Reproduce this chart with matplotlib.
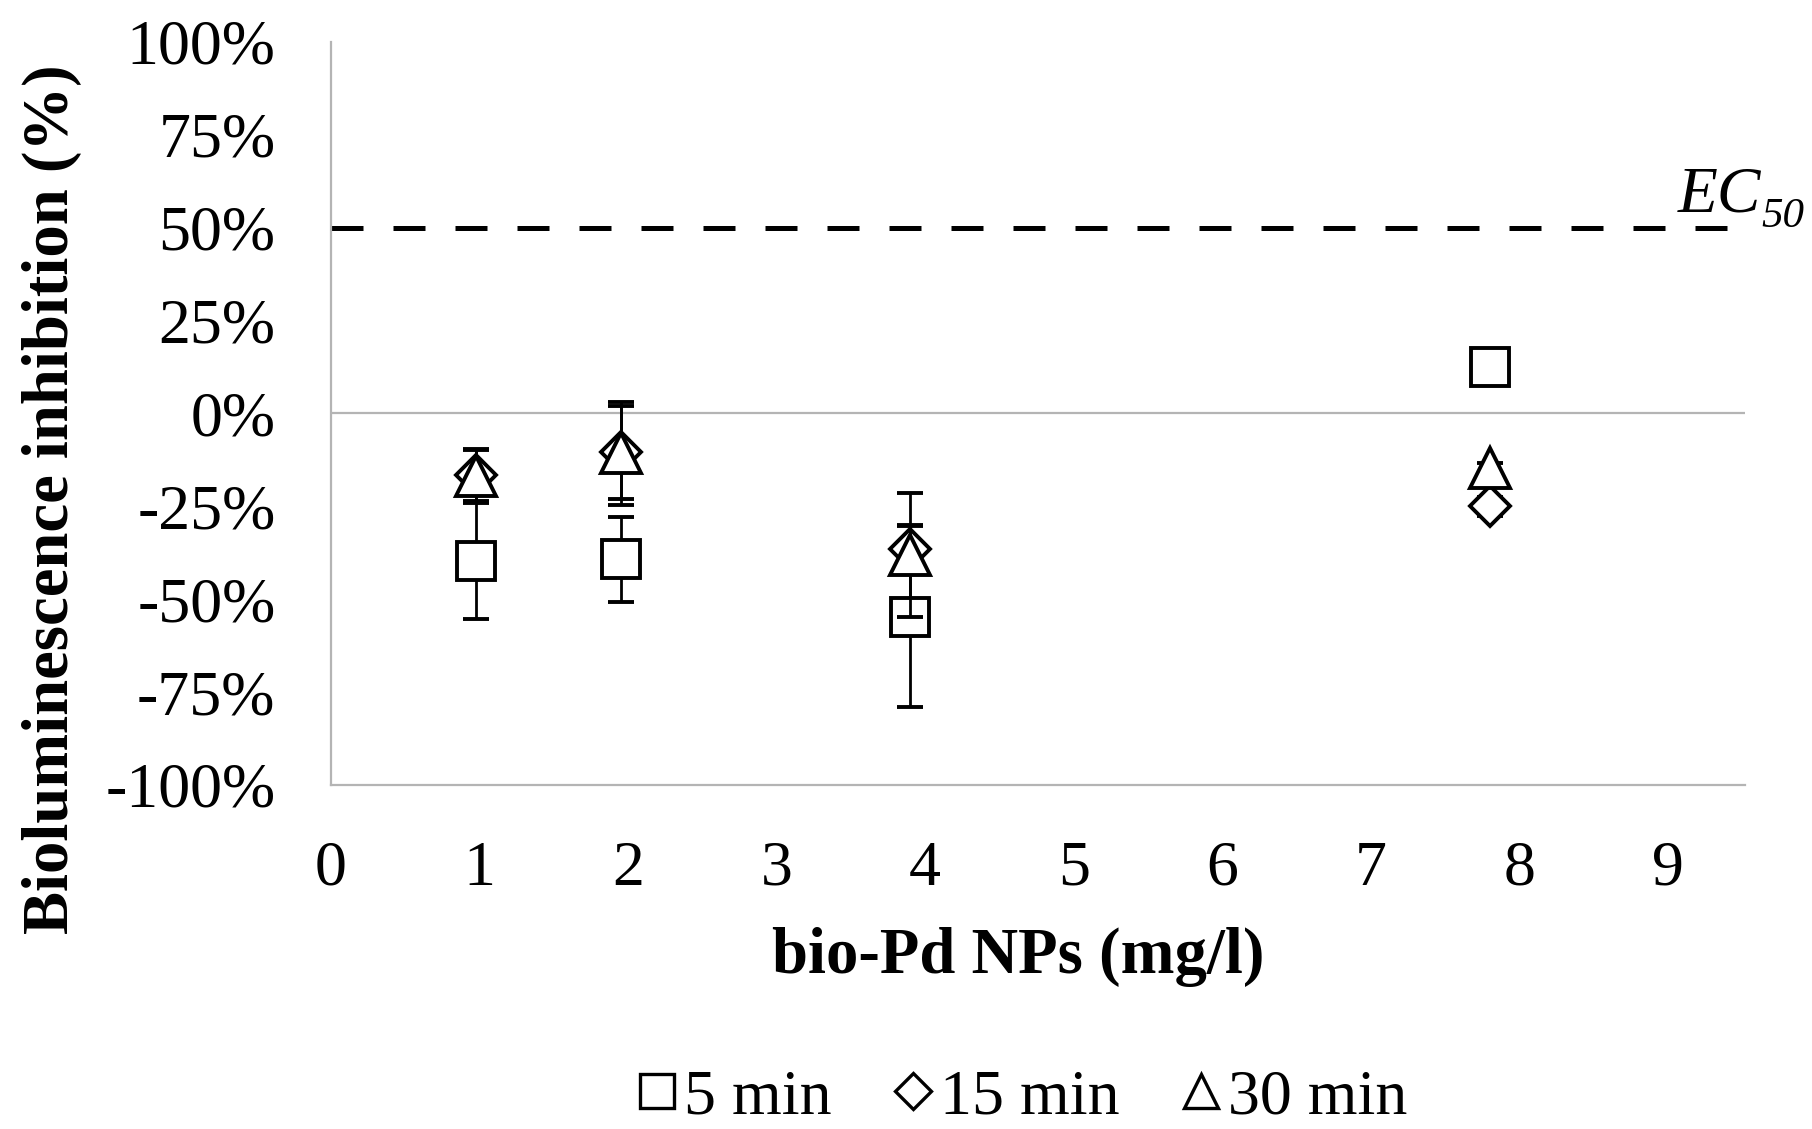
import matplotlib
matplotlib.use("Agg")
import matplotlib.pyplot as plt
from matplotlib.lines import Line2D
from matplotlib.ticker import FuncFormatter

plt.rcParams['font.family'] = ['Liberation Serif', 'DejaVu Serif']

# Data (concentrations in mg/l, inhibition in %)
conc = [0.975, 1.95, 3.9, 7.8]
inh_5min = [-39.7, -39.3, -54.7, 12.6]
err_5min = [15.7, 11.5, 24.3, 0.0]
inh_15min = [-16.5, -10.4, -36.5, -25.0]
err_15min = [7.0, 12.5, 6.5, 2.5]
inh_30min = [-16.8, -10.7, -38.1, -14.8]
err_30min = [7.0, 13.8, 16.6, 1.5]
series_labels = ["5 min", "15 min", "30 min"]
ec50 = 50
x_ticks = list(range(0, 10))
y_ticks = [-100, -75, -50, -25, 0, 25, 50, 75, 100]

fig = plt.figure(figsize=(18.12, 11.29), dpi=100)
ax = fig.add_axes([0.1827, 0.3047, 0.963 - 0.1827, 0.9628 - 0.3047])

ax.set_xlim(0, 9.52)
ax.set_ylim(-100, 100)

# EC50 line
ax.axhline(ec50, color='black', lw=3.6, dashes=(6.4, 6.0), zorder=2)
t = ax.text(9.066, 54.4, 'EC', style='italic', fontsize=47, ha='left', va='baseline',
            clip_on=False)
ax.annotate('50', xy=(1, 0), xycoords=t, xytext=(0, -1), textcoords='offset points',
            style='italic', fontsize=31, ha='left', va='baseline')

# zero line
ax.axhline(0, color='#b4b4b4', lw=1.6, zorder=1)

common = dict(color='black', ecolor='black', elinewidth=2.0, capsize=9.5,
              capthick=2.0, linestyle='none', markerfacecolor='white',
              markeredgecolor='black', markeredgewidth=2.8)
ax.errorbar(conc, inh_5min, yerr=err_5min, marker='s', markersize=28, zorder=3, **common)
ax.errorbar(conc, inh_15min, yerr=err_15min, marker='D', markersize=20, zorder=4, **common)
ax.errorbar(conc, inh_30min, yerr=err_30min, marker='^', markersize=29, zorder=5, **common)

ax.set_xticks(x_ticks)
ax.set_yticks(y_ticks)
ax.yaxis.set_major_formatter(FuncFormatter(lambda v, p: f"{int(v)}%"))
ax.tick_params(axis='both', length=0, labelsize=46)
ax.tick_params(axis='y', pad=40)
ax.tick_params(axis='x', pad=40)

for s in ['top', 'right']:
    ax.spines[s].set_visible(False)
for s in ['left', 'bottom']:
    ax.spines[s].set_color('#b4b4b4')
    ax.spines[s].set_linewidth(1.6)

ax.set_xlabel('bio-Pd NPs (mg/l)', fontsize=46.5, fontweight='bold', va='center')
ax.xaxis.set_label_coords(0.4857, -0.2315)
fig.text(52 / 1812, 1 - 499 / 1129, 'Bioluminescence inhibition (%)', rotation=90,
         fontsize=46.5, fontweight='bold', ha='center', va='center')

handles = [
    Line2D([], [], marker='s', markersize=25, linestyle='none', markerfacecolor='white',
           markeredgecolor='black', markeredgewidth=2.4),
    Line2D([], [], marker='D', markersize=18, linestyle='none', markerfacecolor='white',
           markeredgecolor='black', markeredgewidth=2.4),
    Line2D([], [], marker='^', markersize=25, linestyle='none', markerfacecolor='white',
           markeredgecolor='black', markeredgewidth=2.4),
]
fig.legend(handles, series_labels, loc='center', bbox_to_anchor=(0.564, 1 - 1098 / 1129),
           ncol=3, frameon=False, fontsize=46, handlelength=0.65, handletextpad=0.1,
           columnspacing=0.95, borderpad=0)

fig.savefig('out.png', dpi=100)
